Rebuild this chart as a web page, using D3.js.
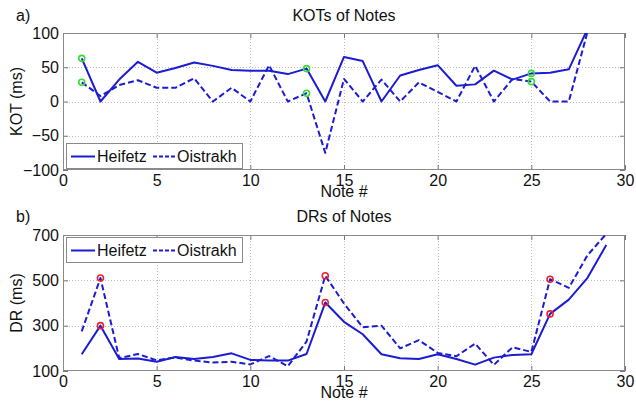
<!DOCTYPE html>
<html><head><meta charset="utf-8">
<script src="https://cdn.jsdelivr.net/npm/d3@7"></script>
<style>
body{margin:0;background:#fff}
svg{display:block}
text{font-family:"Liberation Sans",Arial,Helvetica,sans-serif;fill:#111}
</style>
</head><body>
<svg id="chart" width="636" height="407"></svg>
<script>
// Note numbers and timing measurements (ms)
const kotNotes = [1,2,3,4,5,6,7,8,9,10,11,12,13,14,15,16,17,18,19,20,21,22,23,24,25,26,27,28];
const kotHeifetz = [63,0,32,58,42,49,57,52,46,45,45,40,48,0,65,59,0,38,46,53,23,25,45,32,41,42,47,106];
const kotOistrakh = [28,8,24,31,20,20,34,0,20,0,53,0,12,-75,33,0,32,0,28,14,0,52,0,33,29,0,0,102];
const kotMarked = [1,13,25];

const drNotes = [1,2,3,4,5,6,7,8,9,10,11,12,13,14,15,16,17,18,19,20,21,22,23,24,25,26,27,28,29];
const drHeifetz = [174,300,153,155,141,162,153,162,178,149,146,146,175,402,317,262,174,156,153,174,153,128,159,171,174,352,415,511,656];
const drOistrakh = [275,510,157,175,147,160,146,137,141,129,166,121,230,520,398,293,300,200,236,180,165,221,127,205,184,505,467,611,705];
const drMarked = [2,14,26];

const seriesNames = ["Heifetz", "Oistrakh"];
const xTicks = [0,5,10,15,20,25,30];
const kotTicks = [-100,-50,0,50,100];
const drTicks = [100,300,500,700];

const svg = d3.select("#chart");
const lineColor = "#1c1cd2";
const fontSize = "16px";
const plotLeft = 63, plotRight = 625;

function panel(cfg) {
  const x = d3.scaleLinear().domain([0,30]).range([plotLeft, plotRight]);
  const y = d3.scaleLinear().domain(cfg.yDomain).range([cfg.bottom, cfg.top]);
  const g = svg.append("g");
  const clipId = "clip-" + cfg.id;
  g.append("clipPath").attr("id", clipId).append("rect")
    .attr("x", plotLeft).attr("y", cfg.top)
    .attr("width", plotRight - plotLeft).attr("height", cfg.bottom - cfg.top);

  // dotted grid
  const grid = g.append("g").attr("stroke", "#bcbcbc").attr("stroke-width", 1)
    .attr("stroke-dasharray", "1,2");
  grid.selectAll(".gx").data(xTicks.slice(1, -1)).join("line")
    .attr("x1", d => Math.round(x(d)) + 0.5).attr("x2", d => Math.round(x(d)) + 0.5)
    .attr("y1", cfg.top).attr("y2", cfg.bottom);
  grid.selectAll(".gy").data(cfg.yTicks.slice(1, -1)).join("line")
    .attr("y1", d => Math.round(y(d)) + 0.5).attr("y2", d => Math.round(y(d)) + 0.5)
    .attr("x1", plotLeft).attr("x2", plotRight);

  // axes with inward ticks
  const axStyle = sel => {
    sel.select(".domain").remove();
    sel.selectAll(".tick line").attr("stroke", "#777");
    sel.selectAll("text").attr("font-size", fontSize).attr("fill", "#111")
      .attr("font-family", '"Liberation Sans",Arial,sans-serif');
  };
  g.append("g").attr("transform", `translate(0,${cfg.bottom})`)
    .call(d3.axisBottom(x).tickValues(xTicks).tickSizeInner(-5).tickSizeOuter(0).tickPadding(5))
    .call(axStyle);
  g.append("g").attr("transform", `translate(0,${cfg.top})`)
    .call(d3.axisTop(x).tickValues(xTicks).tickSizeInner(-5).tickSizeOuter(0).tickFormat(""))
    .call(axStyle);
  g.append("g").attr("transform", `translate(${plotLeft},0)`)
    .call(d3.axisLeft(y).tickValues(cfg.yTicks).tickSizeInner(-5).tickSizeOuter(0).tickPadding(4))
    .call(axStyle);
  g.append("g").attr("transform", `translate(${plotRight},0)`)
    .call(d3.axisRight(y).tickValues(cfg.yTicks).tickSizeInner(-5).tickSizeOuter(0).tickFormat(""))
    .call(axStyle);

  // frame
  g.append("rect").attr("x", plotLeft + 0.5).attr("y", cfg.top + 0.5)
    .attr("width", plotRight - plotLeft - 1).attr("height", cfg.bottom - cfg.top - 1)
    .attr("fill", "none").attr("stroke", "#8a8a8a");

  // data lines
  const line = d3.line().x(d => x(d[0])).y(d => y(d[1]));
  const data = [
    {vals: cfg.a, dash: null},
    {vals: cfg.b, dash: "6,3"}
  ];
  const lines = g.append("g").attr("clip-path", `url(#${clipId})`);
  data.forEach(s => {
    lines.append("path").datum(cfg.notes.map((n, i) => [n, s.vals[i]]))
      .attr("d", line).attr("fill", "none").attr("stroke", lineColor)
      .attr("stroke-width", 2).attr("stroke-linejoin", "round")
      .attr("stroke-dasharray", s.dash);
  });

  // highlighted notes
  data.forEach(s => {
    g.selectAll(null).data(cfg.marked).join("circle")
      .attr("cx", n => x(n)).attr("cy", n => y(s.vals[cfg.notes.indexOf(n)]))
      .attr("r", 3).attr("fill", "none")
      .attr("stroke", cfg.markColor).attr("stroke-width", 1.6);
  });

  // legend
  const lg = g.append("g").attr("transform", `translate(66,${cfg.legendTop})`);
  lg.append("rect").attr("x", 0.5).attr("y", 0.5).attr("width", 176).attr("height", 25)
    .attr("fill", "#fff").attr("stroke", "#8a8a8a");
  const entries = [
    {name: seriesNames[0], x1: 5, x2: 29, tx: 31, dash: null},
    {name: seriesNames[1], x1: 87, x2: 111, tx: 111, dash: "4,2"}
  ];
  entries.forEach(e => {
    lg.append("line").attr("x1", e.x1).attr("x2", e.x2).attr("y1", 13.5).attr("y2", 13.5)
      .attr("stroke", lineColor).attr("stroke-width", 2).attr("stroke-dasharray", e.dash);
    lg.append("text").attr("x", e.tx).attr("y", 19).attr("font-size", fontSize).text(e.name);
  });

  // titles and labels
  svg.append("text").attr("x", 16).attr("y", cfg.titleY).attr("font-size", fontSize).text(cfg.tag);
  svg.append("text").attr("x", 344).attr("y", cfg.titleY).attr("text-anchor", "middle")
    .attr("font-size", fontSize).text(cfg.title);
  svg.append("text").attr("x", 344).attr("y", cfg.bottom + 27).attr("text-anchor", "middle")
    .attr("font-size", fontSize).text("Note #");
  svg.append("text").attr("transform", `translate(22,${(cfg.top + cfg.bottom) / 2}) rotate(-90)`)
    .attr("text-anchor", "middle").attr("font-size", fontSize).text(cfg.yLabel);
}

panel({
  id: "kot", top: 33, bottom: 170, yDomain: [-100, 100], yTicks: kotTicks,
  notes: kotNotes, a: kotHeifetz, b: kotOistrakh, marked: kotMarked, markColor: "#33dd33",
  legendTop: 143, tag: "a)", title: "KOTs of Notes", titleY: 21, yLabel: "KOT (ms)"
});
panel({
  id: "dr", top: 235, bottom: 371, yDomain: [100, 700], yTicks: drTicks,
  notes: drNotes, a: drHeifetz, b: drOistrakh, marked: drMarked, markColor: "#ee2030",
  legendTop: 237, tag: "b)", title: "DRs of Notes", titleY: 222, yLabel: "DR (ms)"
});
</script>
</body></html>
